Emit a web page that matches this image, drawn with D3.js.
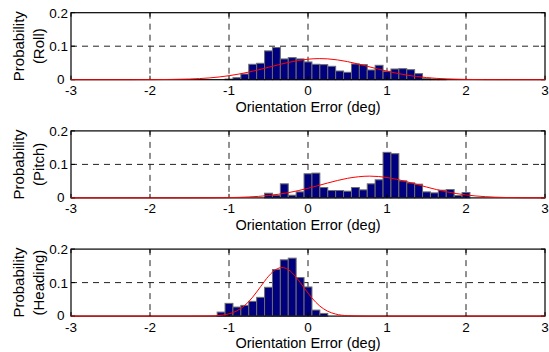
<!DOCTYPE html>
<html><head><meta charset="utf-8">
<script src="https://cdn.jsdelivr.net/npm/d3@7"></script>
<style>
html,body{margin:0;padding:0;background:#fff;}
svg{display:block;font-family:"Liberation Sans",Arial,Helvetica,sans-serif;}
</style></head>
<body>
<svg id="chart" width="549" height="352"></svg>
<script>
// ---- data ----
const xTicks = [-3, -2, -1, 0, 1, 2, 3];
const yTicks = [0, 0.1, 0.2];
const xGrid = [-2, -1, 0, 1, 2];
const yGrid = [0.1];
const panelNames = ["(Roll)", "(Pitch)", "(Heading)"];
const xLabel = "Orientation Error (deg)";
const yLabel = "Probability";

const rollBins = [-1.0,-0.9,-0.8,-0.7,-0.6,-0.5,-0.4,-0.3,-0.2,-0.1,0.0,0.1,0.2,0.3,0.4,0.5,0.6,0.7,0.8,0.9,1.0,1.1,1.2,1.3,1.4,1.5,1.6,1.7];
const rollProb = [0.002,0.006,0.017,0.046,0.049,0.086,0.096,0.062,0.066,0.062,0.053,0.046,0.045,0.040,0.026,0.022,0.047,0.045,0.029,0.043,0.025,0.032,0.033,0.030,0.018,0.004,0.002,0.001];
const rollFitX = [-3,-2.25,-2,-1.75,-1.5,-1.25,-1,-0.75,-0.5,-0.25,0,0.15,0.25,0.5,0.75,1,1.25,1.5,1.75,2,2.25,2.5,3];
const rollFitY = [0,0,0.0002,0.0007,0.002,0.0053,0.0119,0.0227,0.037,0.0515,0.0612,0.063,0.0622,0.054,0.040,0.0254,0.0137,0.0063,0.0025,0.0008,0.0002,0.0001,0];

const pitchBins = [-0.5,-0.4,-0.3,-0.2,-0.1,0.0,0.1,0.2,0.3,0.4,0.5,0.6,0.7,0.8,0.9,1.0,1.1,1.2,1.3,1.4,1.5,1.6,1.7,1.8,1.9,2.0];
const pitchProb = [0.014,0.008,0.042,0.008,0.018,0.072,0.074,0.031,0.022,0.022,0.020,0.031,0.024,0.042,0.054,0.136,0.132,0.051,0.045,0.041,0.018,0.015,0.023,0.025,0.007,0.016];
const pitchFitX = [-3,-1.5,-1.25,-1,-0.75,-0.5,-0.25,0,0.25,0.5,0.78,1,1.25,1.5,1.75,2,2.25,2.5,2.75,3];
const pitchFitY = [0,0.0001,0.0003,0.0009,0.0028,0.0072,0.0156,0.0287,0.0445,0.0585,0.065,0.0609,0.0483,0.0324,0.0184,0.0088,0.0036,0.0012,0.0004,0.0001];

const headingBins = [-1.1,-1.0,-0.9,-0.8,-0.7,-0.6,-0.5,-0.4,-0.3,-0.2,-0.1,0.0,0.1,0.2];
const headingProb = [0.012,0.038,0.027,0.032,0.044,0.056,0.086,0.139,0.168,0.173,0.115,0.087,0.018,0.008];
const headingFitX = [-3,-1.5,-1.25,-1.1,-1,-0.9,-0.8,-0.7,-0.6,-0.5,-0.4,-0.33,-0.25,-0.15,-0.05,0.05,0.15,0.25,0.35,0.5,0.75,1,3];
const headingFitY = [0,0.00001,0.0004,0.0025,0.0067,0.0156,0.0319,0.0567,0.088,0.119,0.140,0.145,0.139,0.116,0.0847,0.0539,0.0299,0.0144,0.0061,0.0013,0.00005,0,0];

const binWidth = 0.1;

// ---- drawing ----
const svg = d3.select("#chart");
const left = 71, right = 545;
const panelTop = [12.7, 130.9, 249.1];
const panelH = 67;

const x = d3.scaleLinear().domain([-3, 3]).range([left, right]);

const panels = [
  {bins: rollBins, prob: rollProb, fx: rollFitX, fy: rollFitY, name: panelNames[0]},
  {bins: pitchBins, prob: pitchProb, fx: pitchFitX, fy: pitchFitY, name: panelNames[1]},
  {bins: headingBins, prob: headingProb, fx: headingFitX, fy: headingFitY, name: panelNames[2]}
];

panels.forEach((p, i) => {
  const top = panelTop[i], bottom = top + panelH;
  const y = d3.scaleLinear().domain([0, 0.2]).range([bottom, top]);
  const g = svg.append("g");

  // grid
  g.selectAll(".gx").data(xGrid).enter().append("line")
    .attr("x1", d => x(d)).attr("x2", d => x(d))
    .attr("y1", top).attr("y2", bottom)
    .attr("stroke", "#222").attr("stroke-width", 1).attr("stroke-dasharray", "6,5");
  g.selectAll(".gy").data(yGrid).enter().append("line")
    .attr("x1", left).attr("x2", right)
    .attr("y1", d => y(d)).attr("y2", d => y(d))
    .attr("stroke", "#222").attr("stroke-width", 1).attr("stroke-dasharray", "6,5");

  // bars
  const bars = p.bins.map((b, k) => ({b, v: p.prob[k]}));
  g.selectAll(".bar").data(bars).enter().append("rect")
    .attr("x", d => x(d.b - binWidth / 2))
    .attr("width", d => x(d.b + binWidth / 2) - x(d.b - binWidth / 2))
    .attr("y", d => y(d.v))
    .attr("height", d => y(0) - y(d.v))
    .attr("fill", "#00007f").attr("stroke", "#6e6e6e").attr("stroke-width", 1);

  // box
  g.append("rect").attr("x", left).attr("y", top)
    .attr("width", right - left).attr("height", panelH)
    .attr("fill", "none").attr("stroke", "#000").attr("stroke-width", 1.2);

  // ticks (inside)
  const tl = 4;
  g.selectAll(".tb").data(xTicks).enter().append("line")
    .attr("x1", d => x(d)).attr("x2", d => x(d)).attr("y1", bottom).attr("y2", bottom - tl)
    .attr("stroke", "#000");
  g.selectAll(".tt").data(xTicks).enter().append("line")
    .attr("x1", d => x(d)).attr("x2", d => x(d)).attr("y1", top).attr("y2", top + tl)
    .attr("stroke", "#000");
  g.selectAll(".tl").data(yTicks).enter().append("line")
    .attr("x1", left).attr("x2", left + tl).attr("y1", d => y(d)).attr("y2", d => y(d))
    .attr("stroke", "#000");
  g.selectAll(".tr").data(yTicks).enter().append("line")
    .attr("x1", right).attr("x2", right - tl).attr("y1", d => y(d)).attr("y2", d => y(d))
    .attr("stroke", "#000");

  // fitted curve
  const line = d3.line().x(d => x(d[0])).y(d => y(d[1])).curve(d3.curveMonotoneX);
  g.append("path").datum(p.fx.map((v, k) => [v, p.fy[k]]))
    .attr("d", line).attr("fill", "none").attr("stroke", "#ff0000").attr("stroke-width", 1);

  // tick labels
  g.selectAll(".xl").data(xTicks).enter().append("text")
    .attr("x", d => x(d)).attr("y", bottom + 15.5)
    .attr("text-anchor", "middle").attr("font-size", 13.5).text(d => d3.format("d")(d).replace("−", "-"));
  g.selectAll(".yl").data(yTicks).enter().append("text")
    .attr("x", d => d === 0 ? left - 6.5 : left - 3)
    .attr("y", d => d === 0 ? y(d) + 4 : y(d) + 5)
    .attr("text-anchor", "end").attr("font-size", 13.5).text(d => d === 0 ? "0" : d3.format(".1f")(d));

  // axis labels
  g.append("text").attr("x", x(0)).attr("y", bottom + 32)
    .attr("text-anchor", "middle").attr("font-size", 14.5).text(xLabel);
  const cy = (top + bottom) / 2;
  g.append("text").attr("transform", `translate(24,${cy}) rotate(-90)`)
    .attr("text-anchor", "middle").attr("font-size", 15).text(yLabel);
  g.append("text").attr("transform", `translate(43.5,${cy}) rotate(-90)`)
    .attr("text-anchor", "middle").attr("font-size", 15).text(p.name);
});
</script>
</body></html>
